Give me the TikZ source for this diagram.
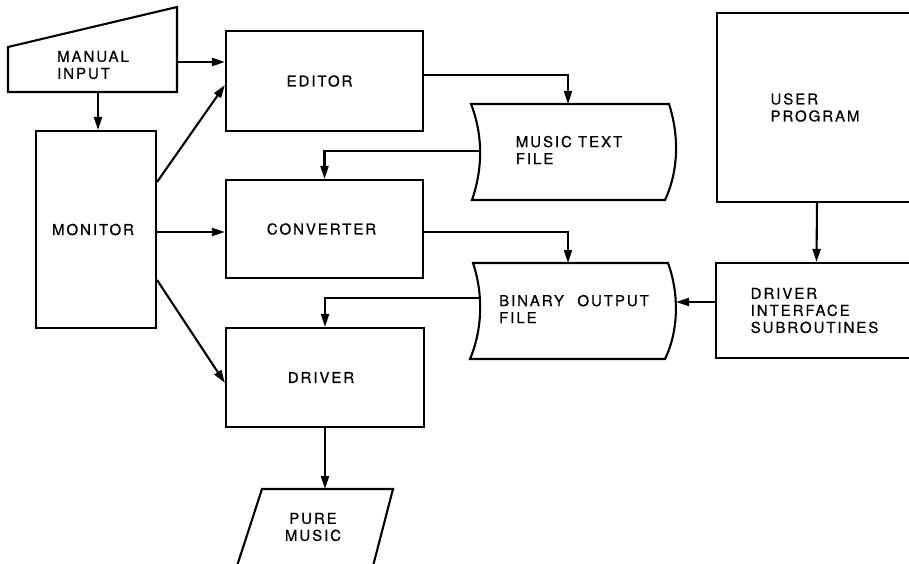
\documentclass[tikz,border=0pt]{standalone}
\usepackage{fontspec}
\setmainfont{TeX Gyre Heros}[LetterSpace=13, FakeBold=0.6]
\usetikzlibrary{arrows.meta,calc}
\begin{document}
\begin{tikzpicture}[x=1pt,y=-1pt,
  every node/.style={font=\fontsize{15}{17}\selectfont, inner sep=0pt},
  ln/.style={line width=2.1pt, line join=miter},
  box/.style={draw, line width=2.1pt, rectangle, align=center},
  lbl/.style={align=left},
  arr/.style={line width=2.1pt, -{Triangle[length=13pt,width=8pt]}}]
\useasboundingbox (0,0) rectangle (909,564);
% Manual input (trapezoid)
\draw[ln] (8,47) -- (177,7) -- (177,92) -- (8,92) -- cycle;
\node[lbl] (mi) at (93,65) {MANUAL\\INPUT};
\coordinate (mib) at (98,92);
\coordinate (mir) at (177,62);
% Rectangles
\node[box, minimum width=120pt, minimum height=197pt] (monitor) at (96,229.5) {MONITOR\hspace{6pt}};
\node[box, minimum width=197pt, minimum height=100pt] (editor) at (324.5,81) {EDITOR\hspace{10pt}};
\node[box, minimum width=197pt, minimum height=98pt] (converter) at (324.5,229) {CONVERTER\hspace{6pt}};
\node[box, minimum width=198pt, minimum height=99pt] (driver) at (325,377.5) {DRIVER\hspace{8pt}};
\node[box, minimum width=196pt, minimum height=189pt, align=left] (user) at (815,107.5) {USER\\PROGRAM};
\node[box, minimum width=197pt, minimum height=95pt, align=left] (dis) at (814.5,310.5) {DRIVER\\INTERFACE\\SUBROUTINES};
% Music text file
\draw[ln] (471,104) -- (669,104) .. controls (679,135) and (679,170) .. (665,200)
  -- (472,200) .. controls (483,168) and (483,135) .. (471,104) -- cycle;
\node[lbl] (mtf) at (569,150) {MUSIC TEXT\\FILE};
\coordinate (mtn) at (568,104);
\coordinate (mtw) at (479,151);
% Binary output file
\draw[ln] (473,263) -- (668,263) .. controls (679,293) and (679,330) .. (665,359)
  -- (470,359) .. controls (483,328) and (483,293) .. (473,263) -- cycle;
\node[lbl] (bof) at (574,309) {BINARY\hspace{0.9em}OUTPUT\\FILE};
\coordinate (bon) at (568,263);
\coordinate (bow) at (479,298);
\coordinate (boe) at (676,302);
% Pure music (parallelogram)
\draw[ln] (262,489) -- (393,489) -- (373,566) -- (237,566) -- cycle;
\node[align=center] (pm) at (313,527) {PURE\\MUSIC};
\coordinate (pmt) at (325,489);
% Connectors
\draw[arr] (mib) -- (mib |- monitor.north);
\draw[arr] (mir) -- (mir -| editor.west);
\draw[arr] ([yshift=47.5pt]monitor.east) -- ([yshift=-4pt]editor.west);
\draw[arr] ([yshift=-2.5pt]monitor.east) -- ([yshift=-3pt]converter.west);
\draw[arr] ([yshift=-50.5pt]monitor.east) -- ([yshift=-5.5pt]driver.west);
\draw[arr] ([yshift=6pt]editor.east) -| (mtn);
\draw[arr] (mtw) -| (converter.north);
\draw[arr] ([yshift=-3pt]converter.east) -| (bon);
\draw[arr] (bow) -| (driver.north);
\draw[arr] ([xshift=2pt]user.south) -- ([xshift=2pt]dis.north);
\draw[arr] (dis.west |- boe) -- (boe);
\draw[arr] (driver.south) -- (pmt);
\end{tikzpicture}
\end{document}
